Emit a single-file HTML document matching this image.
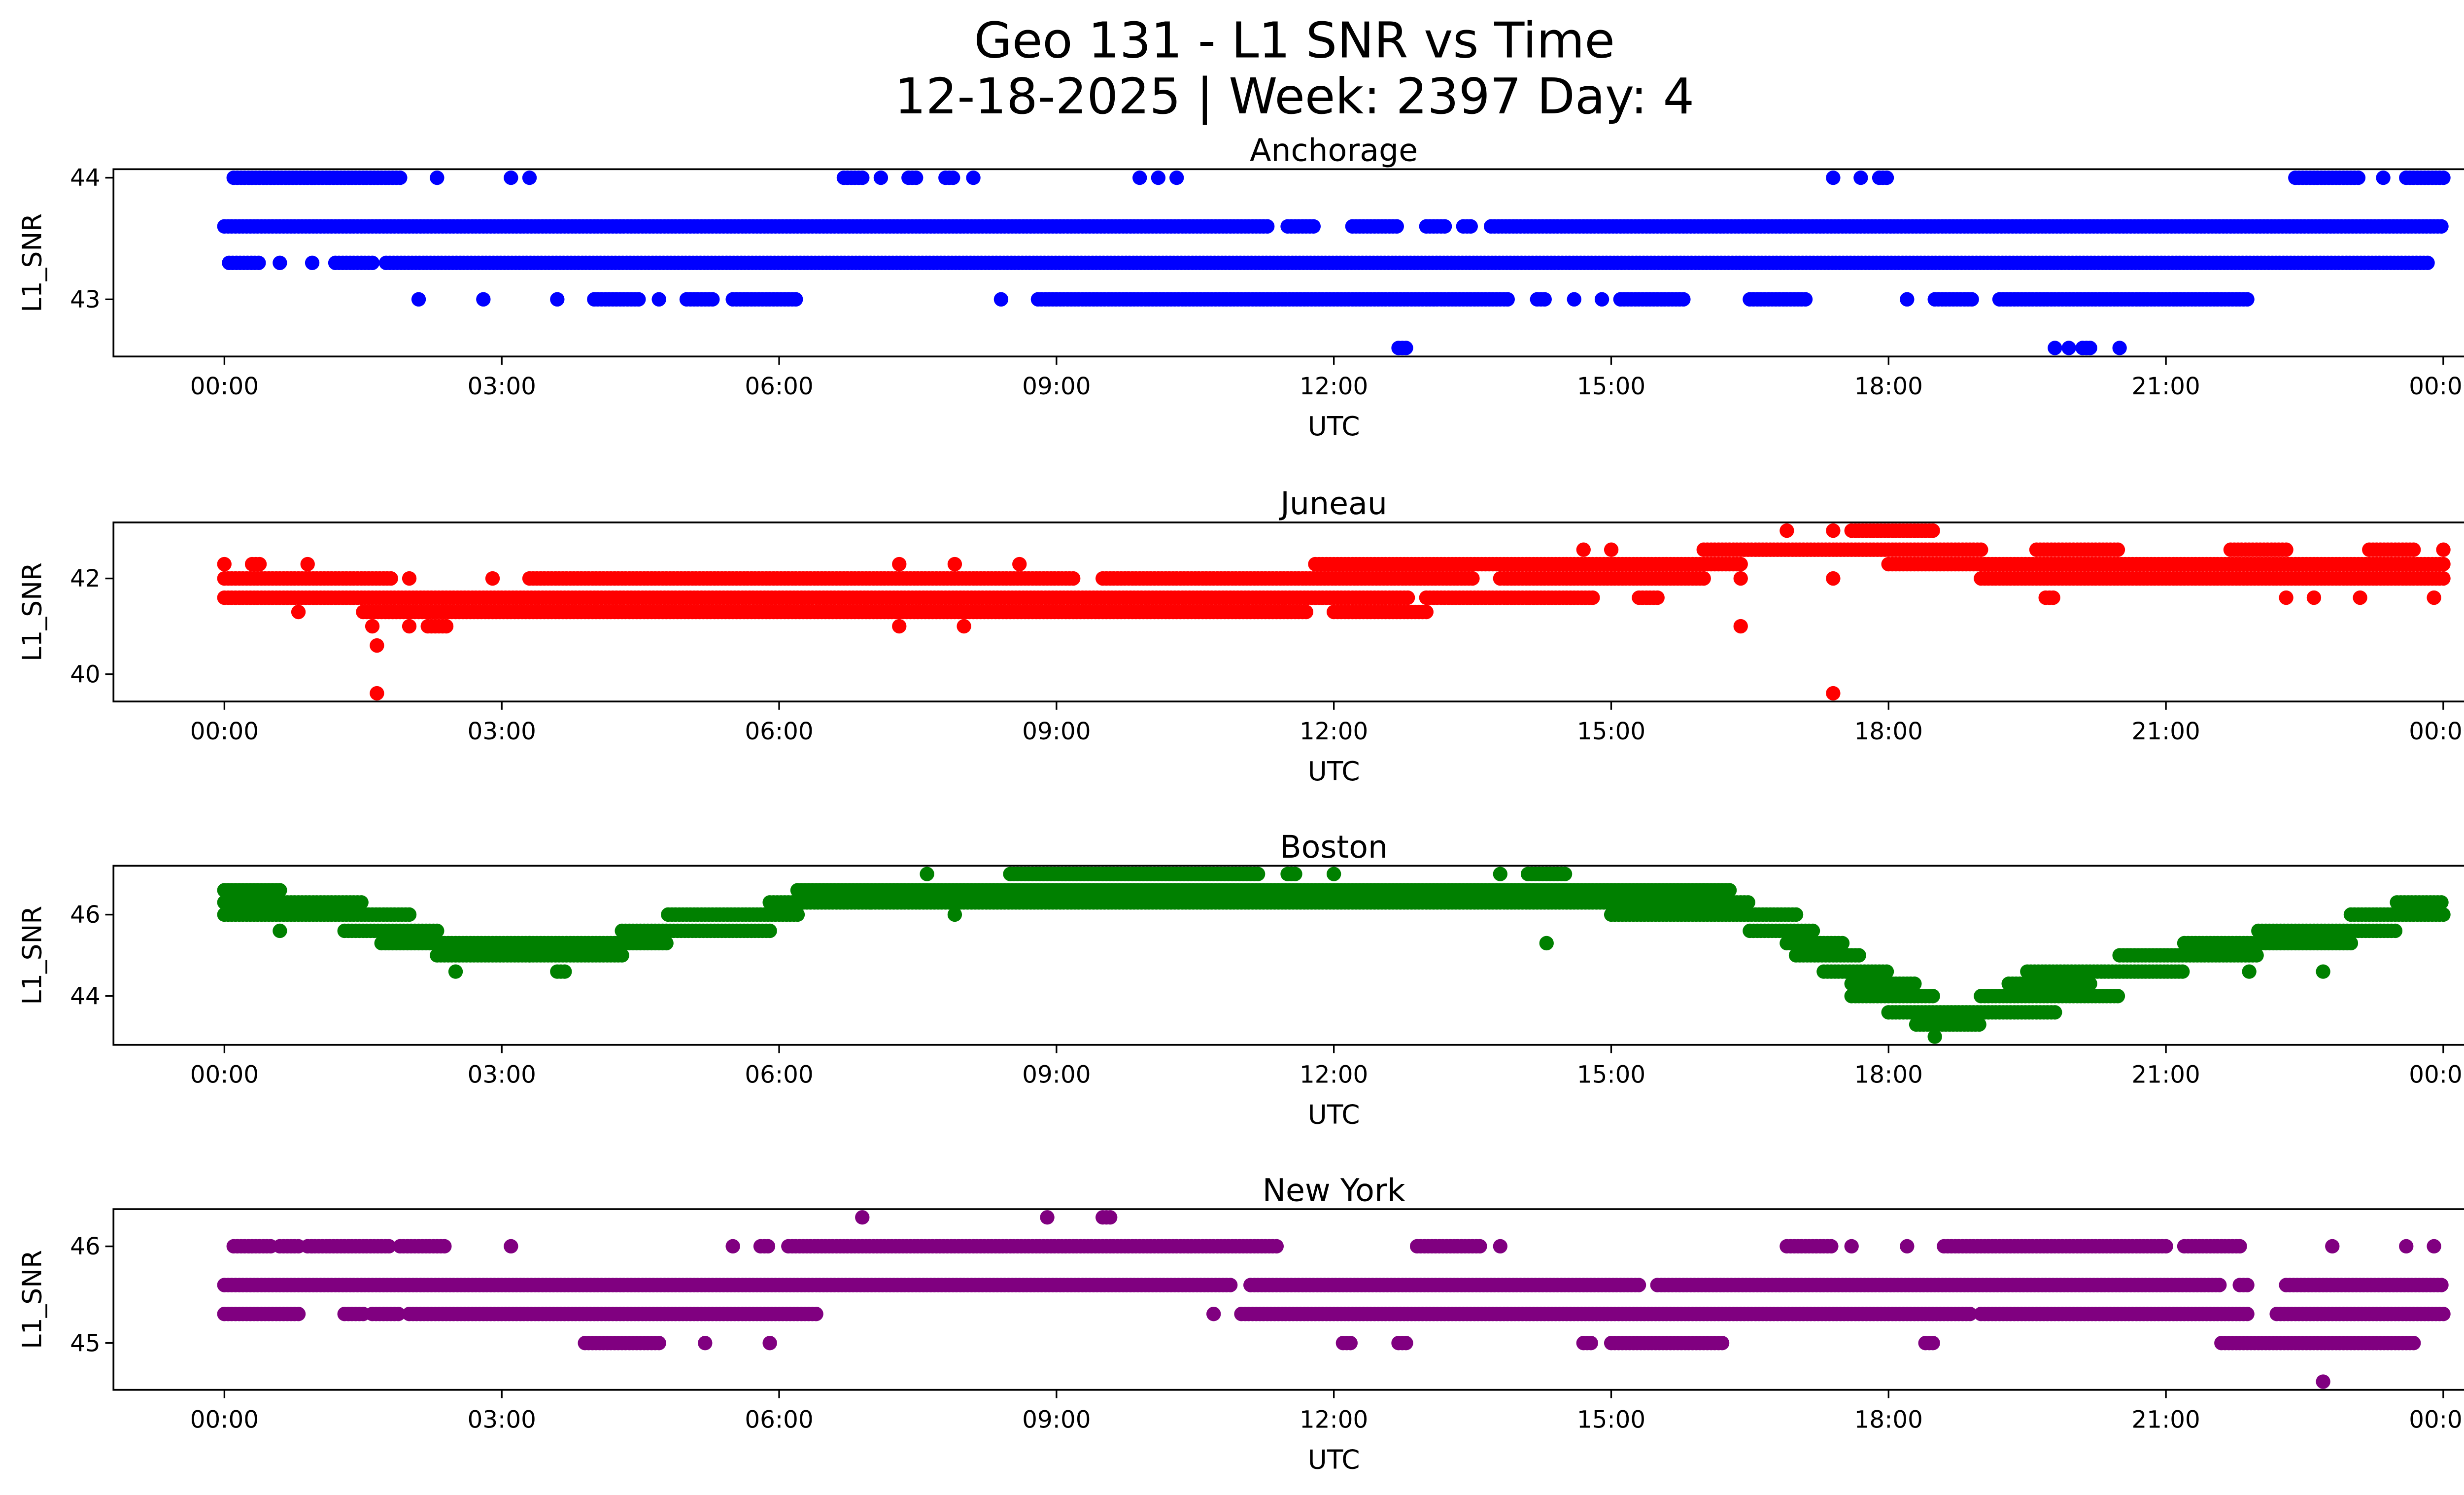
<!DOCTYPE html>
<html><head><meta charset="utf-8">
<style>
html,body{margin:0;padding:0;background:#fff;}
svg{display:block;}
text{font-family:"DejaVu Sans","Liberation Sans",sans-serif;fill:#000;}
</style></head>
<body>
<svg id="fig" width="5225" height="3033" viewBox="0 0 1567.5 910" xmlns="http://www.w3.org/2000/svg">
<rect width="1567.5" height="910" fill="#fff"/>
<text x="788" y="35" font-size="30" text-anchor="middle">Geo 131 - L1 SNR vs Time</text>
<text x="788" y="69" font-size="30" text-anchor="middle">12-18-2025 | Week: 2397 Day: 4</text>
<g id="panels"></g>
</svg>
<script>
// Segments: [SNR level, start hour, end hour]
const anchorageSegs = [
[43.6,0,11.3],[43.6,11.5,11.8],[43.6,12.2,12.7],[43.6,13.0,13.2],[43.6,13.4,13.5],[43.6,13.7,24],
[43.3,0.05,0.4],[43.3,0.6,0.6],[43.3,0.95,0.95],[43.3,1.2,1.6],[43.3,1.75,23.85],
[44,0.1,1.9],[44,2.3,2.3],[44,3.1,3.1],[44,3.3,3.3],[44,6.7,6.9],[44,7.1,7.1],[44,7.4,7.5],[44,7.8,7.9],[44,8.1,8.1],[44,9.9,9.9],[44,10.1,10.1],[44,10.3,10.3],[44,17.4,17.4],[44,17.7,17.7],[44,17.9,18.0],[44,22.4,23.1],[44,23.35,23.35],[44,23.6,24],
[43,2.1,2.1],[43,2.8,2.8],[43,3.6,3.6],[43,4.0,4.5],[43,4.7,4.7],[43,5.0,5.3],[43,5.5,6.2],[43,8.4,8.4],[43,8.8,13.9],[43,14.2,14.3],[43,14.6,14.6],[43,14.9,14.9],[43,15.1,15.8],[43,16.5,17.1],[43,18.2,18.2],[43,18.5,18.9],[43,19.2,21.9],
[42.6,12.7,12.8],[42.6,19.8,19.8],[42.6,19.95,19.95],[42.6,20.1,20.2],[42.6,20.5,20.5]
];
const juneauSegs = [
[41.6,0,12.8],[41.6,13.0,14.8],[41.6,15.3,15.5],[41.6,19.7,19.8],[41.6,22.3,22.3],[41.6,22.6,22.6],[41.6,23.1,23.1],[41.6,23.9,23.9],
[42,0,1.8],[42,2.0,2.0],[42,2.9,2.9],[42,3.3,9.2],[42,9.5,13.5],[42,13.8,16.0],[42,16.4,16.4],[42,17.4,17.4],[42,19.0,24],
[41.3,0.8,0.8],[41.3,1.5,11.7],[41.3,12.0,13.0],
[42.3,0,0],[42.3,0.3,0.4],[42.3,0.9,0.9],[42.3,7.3,7.3],[42.3,7.9,7.9],[42.3,8.6,8.6],[42.3,11.8,16.4],[42.3,18.0,24],
[42.6,14.7,14.7],[42.6,15.0,15.0],[42.6,16.0,19.0],[42.6,19.6,20.5],[42.6,21.7,22.3],[42.6,23.2,23.7],[42.6,24,24],
[43,16.9,16.9],[43,17.4,17.4],[43,17.6,18.5],
[41,1.6,1.6],[41,2.0,2.0],[41,2.2,2.4],[41,7.3,7.3],[41,8.0,8.0],[41,16.4,16.4],
[40.6,1.65,1.65],[39.6,1.65,1.65],[39.6,17.4,17.4]
];
const bostonSegs = [
[46.6,0,0.6],[46.3,0,1.5],[46,0,2.0],[45.6,0.6,0.6],[45.6,1.3,2.3],[45.3,1.7,3.3],[45,2.3,3.3],[44.6,2.5,2.5],
[45,3.3,4.3],[45.3,3.3,4.8],[44.6,3.6,3.7],[45.6,4.3,5.9],[46,4.8,6.2],[46.3,5.9,7.0],[46.6,6.2,16.0],
[47,7.6,7.6],[47,8.5,11.2],[46.3,7.0,16.5],[46,7.9,7.9],[47,11.5,11.6],[47,12,12],[47,13.8,13.8],[47,14.1,14.5],[45.3,14.3,14.3],
[46,15.0,17.0],[46.6,16.0,16.3],[45.6,16.5,17.2],[45.3,16.9,17.5],[45,17.0,17.7],[44.6,17.3,18.0],[44.3,17.6,18.3],[44,17.6,18.5],
[43.6,18.0,19.8],[43.3,18.3,19.0],[43,18.5,18.5],[44,19.0,20.5],[44.3,19.3,20.2],[44.6,19.5,21.2],[45,20.5,22.0],[45.3,21.2,23.0],[44.6,21.9,21.9],
[45.6,22.0,23.5],[44.6,22.7,22.7],[46,23.0,24],[46.3,23.5,24]
];
const newYorkSegs = [
[45.6,0,10.9],[45.6,11.1,15.3],[45.6,15.5,21.6],[45.6,21.8,21.9],[45.6,22.3,24],
[45.3,0,0.8],[45.3,1.3,1.5],[45.3,1.6,1.9],[45.3,2.0,6.4],[45.3,10.7,10.7],[45.3,11.0,18.9],[45.3,19.0,21.9],[45.3,22.2,24],
[46,0.1,0.5],[46,0.6,0.8],[46,0.9,1.8],[46,1.9,2.4],[46,3.1,3.1],[46,5.5,5.5],[46,5.8,5.9],[46,6.1,11.4],[46,12.9,13.6],[46,13.8,13.8],[46,16.9,17.4],[46,17.6,17.6],[46,18.2,18.2],[46,18.6,21.0],[46,21.2,21.8],[46,22.8,22.8],[46,23.6,23.6],[46,23.9,23.9],
[45,3.9,4.7],[45,5.2,5.2],[45,5.9,5.9],[45,12.1,12.2],[45,12.7,12.8],[45,14.7,14.8],[45,15.0,16.2],[45,18.4,18.5],[45,21.6,23.7],
[46.3,6.9,6.9],[46.3,8.9,8.9],[46.3,9.5,9.6],[44.6,22.7,22.7]
];
const xTickLabels = ["00:00","03:00","06:00","09:00","12:00","15:00","18:00","21:00","00:00"];
const xTickHours = [0,3,6,9,12,15,18,21,24];
const anchorageYTicks = [43,44];
const juneauYTicks = [40,42];
const bostonYTicks = [44,46];
const newYorkYTicks = [45,46];

const NS="http://www.w3.org/2000/svg";
const root=document.getElementById('panels');
const L=69,R=1555;
function xScale(h){return L+(h+1.2)/26.4*(R-L);}
function el(tag,attrs,parent){const e=document.createElementNS(NS,tag);for(const k in attrs)e.setAttribute(k,attrs[k]);parent.appendChild(e);return e;}

const panels=[
 {name:"anchorage",title:"Anchorage",segs:anchorageSegs,ticks:anchorageYTicks,color:"#0000ff",top:103,bot:217,ymin:42.53,ymax:44.07},
 {name:"juneau",title:"Juneau",segs:juneauSegs,ticks:juneauYTicks,color:"#ff0000",top:318,bot:427,ymin:39.43,ymax:43.17},
 {name:"boston",title:"Boston",segs:bostonSegs,ticks:bostonYTicks,color:"#008000",top:527,bot:636,ymin:42.8,ymax:47.2},
 {name:"new-york",title:"New York",segs:newYorkSegs,ticks:newYorkYTicks,color:"#800080",top:736,bot:846,ymin:44.515,ymax:46.385}
];
panels.forEach(p=>{
 const g=el('g',{},root);
 
 
 const y=v=>p.bot-(v-p.ymin)/(p.ymax-p.ymin)*(p.bot-p.top);
 const t=el('text',{x:(L+R)/2,y:p.top-5,'font-size':19,'text-anchor':'middle'},g);
 t.textContent=p.title;
 
 
 const dots=el('g',{fill:p.color},g);
 
 
 p.segs.forEach(s=>{
  const yy=y(s[0]);
  for(let h=s[1];h<=s[2]+1e-9;h+=0.04){
   el('circle',{cx:xScale(h).toFixed(1),cy:yy.toFixed(1),r:4.4},dots);
  }
 });
 const fr=el('rect',{x:L,y:p.top,width:R-L,height:p.bot-p.top,fill:'none',stroke:'#000','stroke-width':1.1},g);
 
 
 xTickHours.forEach((h,i)=>{
  const x=xScale(h);
  el('line',{x1:x,x2:x,y1:p.bot,y2:p.bot+5,stroke:'#000','stroke-width':1},g);
  const tl=el('text',{x:x,y:p.bot+23,'font-size':14.5,'text-anchor':'middle'},g);
  tl.textContent=xTickLabels[i];
  
  
 });
 p.ticks.forEach(v=>{
  const yy=y(v);
  el('line',{x1:L-5,x2:L,y1:yy,y2:yy,stroke:'#000','stroke-width':1},g);
  const tl=el('text',{x:L-8,y:yy+5,'font-size':14.5,'text-anchor':'end'},g);
  tl.textContent=String(v);
  
  
 });
 const xl=el('text',{x:(L+R)/2,y:p.bot+48,'font-size':16,'text-anchor':'middle'},g);
 xl.textContent="UTC";
 
 
 const cy=(p.top+p.bot)/2;
 const yl=el('text',{x:25,y:cy,'font-size':16,'text-anchor':'middle',transform:`rotate(-90 25 ${cy})`},g);
 yl.textContent="L1_SNR";
 
 
});
</script>
</body></html>
